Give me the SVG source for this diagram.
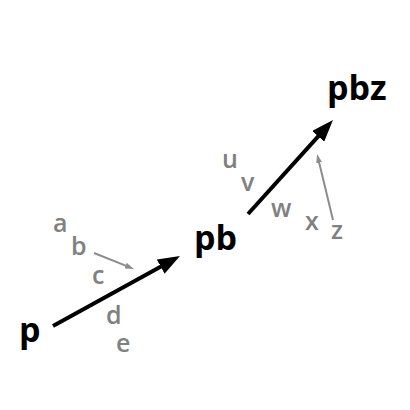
<svg xmlns="http://www.w3.org/2000/svg" width="410" height="410" viewBox="0 0 410 410">
<defs>
<style>
.node{font-family:"Open Sans","Liberation Sans",sans-serif;font-weight:700;font-size:34px;fill:#000}
.lbl{font-family:"Open Sans","Liberation Sans",sans-serif;font-weight:600;font-size:25px;fill:#808080}
.main{stroke:#000;stroke-width:4;fill:none}
.aux{stroke:#8c8c8c;stroke-width:2;fill:none}
</style>
<marker id="hb" markerUnits="userSpaceOnUse" markerWidth="22" markerHeight="16" refX="4" refY="8" orient="auto">
<path d="M0,0 L22,8 L0,16 z" fill="#000"/>
</marker>
<marker id="hg" markerUnits="userSpaceOnUse" markerWidth="9" markerHeight="6" refX="2" refY="3" orient="auto">
<path d="M0,0 L9,3 L0,6 z" fill="#8c8c8c"/>
</marker>
</defs>
<rect width="410" height="410" fill="#fff"/>
<g id="connectors">
<path class="main" d="M53,326 L164.2,264.7" marker-end="url(#hb)"/>
<path class="main" d="M248,214 L320.9,133.4" marker-end="url(#hb)"/>
<path class="aux" d="M94,253 L127.5,266.4" marker-end="url(#hg)"/>
<path class="aux" d="M333,220 L318.7,160.8" marker-end="url(#hg)"/>
</g>
<g id="node-p"><text class="node" x="19" y="342">p</text></g>
<g id="node-pb"><text class="node" x="194" y="250">pb</text></g>
<g id="node-pbz"><text class="node" x="327" y="100">pbz</text></g>
<g id="labels">
<text class="lbl" x="53" y="232">a</text>
<text class="lbl" x="71" y="255">b</text>
<text class="lbl" x="92" y="284">c</text>
<text class="lbl" x="106" y="324">d</text>
<text class="lbl" x="116" y="352">e</text>
<text class="lbl" x="222" y="168">u</text>
<text class="lbl" x="241" y="191">v</text>
<text class="lbl" x="271" y="217">w</text>
<text class="lbl" x="305" y="230">x</text>
<text class="lbl" x="331" y="239">z</text>
</g>
</svg>
